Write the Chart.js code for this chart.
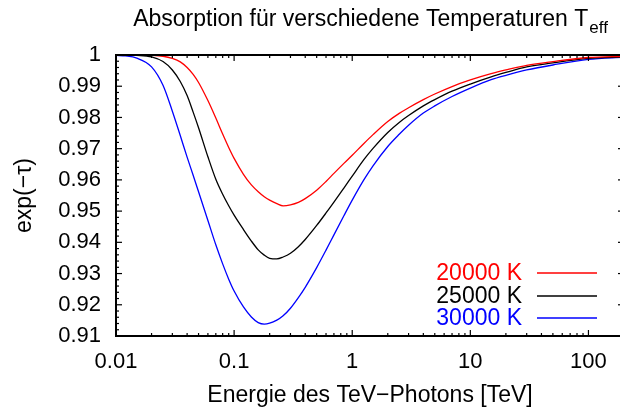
<!DOCTYPE html>
<html>
<head>
<meta charset="utf-8">
<script src="https://cdn.jsdelivr.net/npm/chart.js@4"></script>
<style>
html,body{margin:0;padding:0;overflow:hidden;background:#fff;width:620px;height:410px;}
canvas{display:block;}
</style>
</head>
<body>
<canvas id="c" width="626" height="410"></canvas>
<script>
// ---- data ----
const energies = [0.01,0.012,0.015,0.02,0.025,0.03,0.035,0.04,0.045,0.05,0.06,0.07,0.08,0.09,0.1,0.12,0.14,0.16,0.18,0.2,0.23,0.26,0.3,0.35,0.4,0.5,0.6,0.7,0.85,1,1.25,1.5,2,2.5,3,4,5,7,10,15,20,30,50,100,200];
const abs20000 = [1.0,1.0,1.0,0.9999,0.9996,0.9989,0.9978,0.9960,0.9938,0.9912,0.9854,0.9798,0.9747,0.9704,0.9669,0.9618,0.9584,0.9562,0.9546,0.9535,0.9524,0.9517,0.9520,0.9528,0.9540,0.9567,0.9595,0.9621,0.9653,0.9679,0.9716,0.9745,0.9787,0.9813,0.9831,0.9857,0.9875,0.9899,0.9920,0.9940,0.9952,0.9967,0.9979,0.9992,0.9996];
const abs25000 = [1.0,1.0,0.9999,0.9994,0.9979,0.9952,0.9915,0.9870,0.9817,0.9767,0.9674,0.9602,0.9554,0.9517,0.9487,0.9441,0.9404,0.9376,0.9359,0.9349,0.9347,0.9353,0.9365,0.9386,0.9409,0.9454,0.9494,0.9529,0.9574,0.9612,0.9664,0.9701,0.9752,0.9784,0.9806,0.9837,0.9857,0.9884,0.9907,0.9930,0.9944,0.9962,0.9975,0.9989,0.9994];
const abs30000 = [0.9999,0.9997,0.9990,0.9962,0.9903,0.9820,0.9742,0.9673,0.9615,0.9562,0.9470,0.9392,0.9331,0.9282,0.9244,0.9193,0.9161,0.9143,0.9138,0.9141,0.9151,0.9165,0.9189,0.9223,0.9256,0.9319,0.9375,0.9424,0.9485,0.9535,0.9599,0.9645,0.9707,0.9746,0.9775,0.9814,0.9837,0.9867,0.9894,0.9921,0.9935,0.9952,0.9968,0.9986,0.9993];
const seriesLabels = ['20000 K','25000 K','30000 K'];
const seriesColors = ['#ff0000','#000000','#0000ff'];
const xTickValues = [0.01,0.1,1,10,100];
const xMin = 0.01, xMax = 200;
const yMin = 0.91, yMax = 1.0;
const titleMain = 'Absorption für verschiedene Temperaturen T';
const titleSub = 'eff';
const xTitle = 'Energie des TeV\u2212Photons [TeV]';
const yTitle = 'exp(\u2212\u03c4)';

const FONT = "'Liberation Sans', Arial, Helvetica, sans-serif";
Chart.defaults.font.family = FONT;
Chart.defaults.font.size = 22;
Chart.defaults.color = '#000';

const toPts = arr => arr.map((v,i)=>({x:energies[i], y:v}));
const seriesValues = [abs20000, abs25000, abs30000];

const frameTicks = {
  id:'frameTicks',
  afterDraw(chart){
    const {ctx, chartArea:{left,right,top,bottom}, scales:{x,y}} = chart;
    ctx.save();
    ctx.strokeStyle = '#000';
    ctx.lineWidth = 1.2;
    const seg = (a,b,c,d)=>{ctx.beginPath();ctx.moveTo(a,b);ctx.lineTo(c,d);ctx.stroke();};
    for (let d=-2; d<=2; d++){
      for (let m=1; m<=9; m++){
        const v = m*Math.pow(10,d);
        if (v < xMin*0.999 || v > xMax*1.001) continue;
        const px = x.getPixelForValue(v);
        const len = m===1 ? 6 : 3;
        seg(px,bottom,px,bottom-len);
        seg(px,top,px,top+len);
      }
    }
    for (let i=0; i<=45; i++){
      const v = yMin + i*0.002;
      const py = y.getPixelForValue(v);
      const len = (i%5===0) ? 6 : 3;
      seg(left,py,left+len,py);
      seg(right,py,right-len,py);
    }
    ctx.lineWidth = 2;
    ctx.strokeRect(left,top,right-left,bottom-top);
    ctx.restore();
  }
};

const titleAndLegend = {
  id:'titleAndLegend',
  afterDraw(chart){
    const {ctx, chartArea:{left,right}} = chart;
    ctx.save();
    ctx.fillStyle = '#000';
    ctx.textBaseline = 'alphabetic';
    ctx.font = '23px ' + FONT;
    const w1 = ctx.measureText(titleMain).width;
    ctx.font = '17px ' + FONT;
    const w2 = ctx.measureText(titleSub).width;
    const cx = (left + right)/2;
    const x0 = cx - (w1 + w2)/2;
    ctx.font = '23px ' + FONT;
    ctx.textAlign = 'left';
    ctx.fillText(titleMain, x0, 26);
    ctx.font = '17px ' + FONT;
    ctx.fillText(titleSub, x0 + w1 + 1, 33);
    // legend
    const rows = [273, 296, 318];
    ctx.font = '23px ' + FONT;
    ctx.textAlign = 'right';
    ctx.textBaseline = 'middle';
    for (let i=0;i<seriesLabels.length;i++){
      ctx.fillStyle = seriesColors[i];
      ctx.fillText(seriesLabels[i], 522, rows[i]+1);
      ctx.strokeStyle = seriesColors[i];
      ctx.lineWidth = 1.3;
      ctx.beginPath(); ctx.moveTo(537, rows[i]); ctx.lineTo(597, rows[i]); ctx.stroke();
    }
    ctx.restore();
  }
};

new Chart(document.getElementById('c'), {
  type:'line',
  data:{
    datasets: seriesValues.map((arr,i)=>({
      label: seriesLabels[i],
      data: toPts(arr),
      borderColor: seriesColors[i],
      backgroundColor: seriesColors[i],
      borderWidth: 1.3,
      pointRadius: 0,
      cubicInterpolationMode: 'monotone',
      fill: false
    }))
  },
  options:{
    responsive:false,
    animation:false,
    devicePixelRatio:1,
    layout:{padding:{top:55,right:2,left:0,bottom:0}},
    plugins:{legend:{display:false}, title:{display:false}, tooltip:{enabled:false}},
    scales:{
      x:{
        type:'logarithmic',
        min:xMin, max:xMax,
        afterBuildTicks: s => { s.ticks = xTickValues.map(v=>({value:v})); },
        afterFit: s => { s.height = 74; },
        grid:{display:false, drawTicks:false},
        border:{display:false},
        ticks:{padding:13, maxRotation:0, autoSkip:false, font:{size:22}, color:'#000',
          callback: v => String(v)},
        title:{display:true, text:xTitle, font:{size:23}, color:'#000', padding:{top:0,bottom:1}}
      },
      y:{
        type:'linear',
        min:yMin, max:yMax,
        afterBuildTicks: s => { const t=[]; for(let i=0;i<=9;i++) t.push({value: +(yMin + i*0.01).toFixed(2)}); s.ticks=t; },
        afterFit: s => { s.width = 116; },
        grid:{display:false, drawTicks:false},
        border:{display:false},
        ticks:{padding:15, autoSkip:false, font:{size:22}, color:'#000',
          callback: v => String(+(+v).toFixed(2))},
        title:{display:true, text:yTitle, font:{size:23}, color:'#000', padding:{top:11,bottom:0}}
      }
    }
  },
  plugins:[frameTicks, titleAndLegend]
});
</script>
</body>
</html>
